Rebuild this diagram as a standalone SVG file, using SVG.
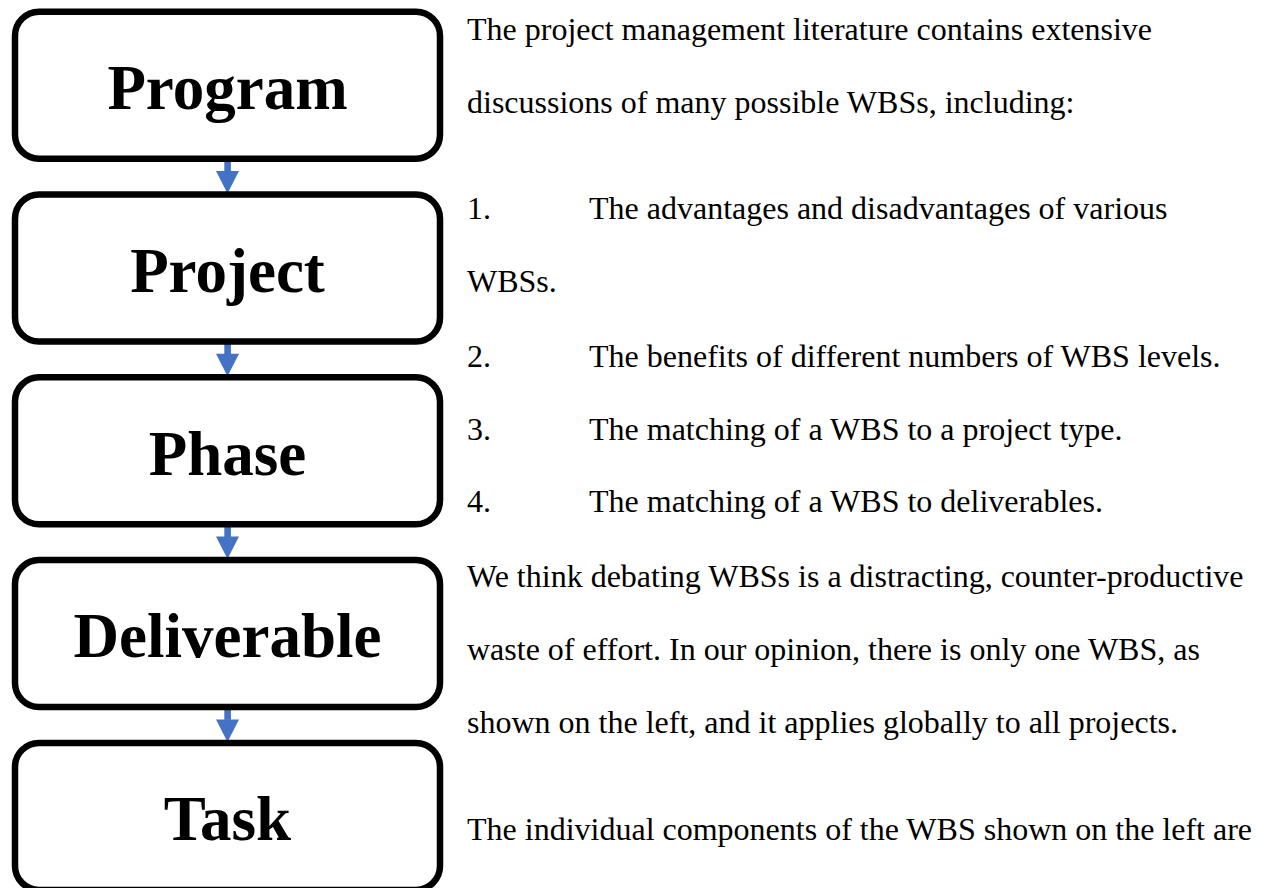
<svg xmlns="http://www.w3.org/2000/svg" width="1265" height="888" viewBox="0 0 1265 888">
<style>
.box{fill:#fff;stroke:#000;stroke-width:6.5}
.lbl{font-family:"Liberation Serif","Times New Roman",serif;font-weight:bold;font-size:63px;fill:#000;text-anchor:middle}
.body{font-family:"Liberation Serif","Times New Roman",serif;font-size:32px;fill:#000}
.arr{fill:#4472C4}
</style>
<rect width="1265" height="888" fill="#fff"/>
<g id="connectors">
<g class="arr">
<rect x="224.3" y="159" width="6.6" height="12.5"/><polygon points="216,171 239,171 227.5,193.5"/>
<rect x="224.3" y="341.8" width="6.6" height="12.5"/><polygon points="216,353.8 239,353.8 227.5,376.3"/>
<rect x="224.3" y="524.6" width="6.6" height="12.5"/><polygon points="216,536.6 239,536.6 227.5,559.1"/>
<rect x="224.3" y="707.4" width="6.6" height="12.5"/><polygon points="216,719.4 239,719.4 227.5,741.9"/>
</g>
</g>
<g id="node-program"><rect class="box" x="15" y="11.7" width="425" height="147" rx="24"/><text class="lbl" x="227.5" y="109">Program</text></g>
<g id="node-project"><rect class="box" x="15" y="194.5" width="425" height="147" rx="24"/><text class="lbl" x="227.5" y="291.8">Project</text></g>
<g id="node-phase"><rect class="box" x="15" y="377.3" width="425" height="147" rx="24"/><text class="lbl" x="227.5" y="474.6">Phase</text></g>
<g id="node-deliverable"><rect class="box" x="15" y="560.1" width="425" height="147" rx="24"/><text class="lbl" x="227.5" y="657.4">Deliverable</text></g>
<g id="node-task"><rect class="box" x="15" y="742.9" width="425" height="147" rx="24"/><text class="lbl" x="227.5" y="840.2">Task</text></g>
<g id="text">
<text class="body" x="467" y="40">The project management literature contains extensive</text>
<text class="body" x="467" y="113">discussions of many possible WBSs, including:</text>
<text class="body" x="467" y="219">1.</text>
<text class="body" x="589" y="219">The advantages and disadvantages of various</text>
<text class="body" x="467" y="292">WBSs.</text>
<text class="body" x="467" y="367">2.</text>
<text class="body" x="589" y="367">The benefits of different numbers of WBS levels.</text>
<text class="body" x="467" y="440">3.</text>
<text class="body" x="589" y="440">The matching of a WBS to a project type.</text>
<text class="body" x="467" y="512">4.</text>
<text class="body" x="589" y="512">The matching of a WBS to deliverables.</text>
<text class="body" x="467" y="587">We think debating WBSs is a distracting, counter-productive</text>
<text class="body" x="467" y="660">waste of effort. In our opinion, there is only one WBS, as</text>
<text class="body" x="467" y="733">shown on the left, and it applies globally to all projects.</text>
<text class="body" x="467" y="840">The individual components of the WBS shown on the left are</text>
</g>
</svg>
